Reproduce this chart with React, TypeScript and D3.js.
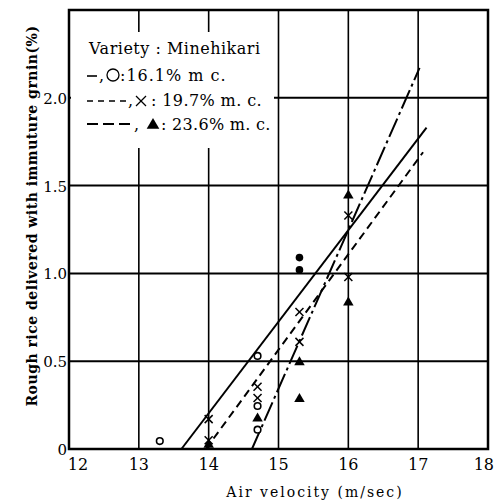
import React from "react";
import * as d3 from "d3";

const xTicks = [12, 13, 14, 15, 16, 17, 18];
const yTicks = [0, 0.5, 1.0, 1.5, 2.0];
const yTickLabels = ["0", "0.5", "1.0", "1.5", "2.0"];

// 16.1% m.c. — open circles
const circX = [13.3, 14.7, 14.7, 14.7];
const circY = [0.045, 0.53, 0.245, 0.11];
// filled dots at 15.3
const dotX = [15.3, 15.3];
const dotY = [1.09, 1.02];
// 19.7% m.c. — crosses
const crossX = [14.0, 14.0, 14.7, 14.7, 15.3, 15.3, 16.0, 16.0];
const crossY = [0.17, 0.05, 0.355, 0.29, 0.78, 0.61, 1.33, 0.98];
// 23.6% m.c. — triangles
const triX = [14.0, 14.7, 15.3, 15.3, 16.0, 16.0];
const triY = [0.03, 0.18, 0.5, 0.29, 1.45, 0.84];

// regression lines (start/end)
const solidLineX = [13.61, 17.12];
const solidLineY = [0, 1.83];
const shortDashX = [13.96, 17.07];
const shortDashY = [0, 1.69];
const longDashX = [14.62, 17.02];
const longDashY = [0, 2.17];

const FONT = "DejaVu Serif";
const T = (size: number, extra: any = {}) => ({ fontFamily: FONT, fontSize: size, ...extra });

export default function App() {
  const W = 496, H = 502;
  const x = d3.scaleLinear().domain([12, 18]).range([69, 488]);
  const y = d3.scaleLinear().domain([0, 2.5]).range([449, 10]);
  const line = d3.line<[number, number]>().x((d) => x(d[0])).y((d) => y(d[1]));
  const mk = (xs: number[], ys: number[]) => xs.map((v, i) => [v, ys[i]] as [number, number]);

  const cross = (cx: number, cy: number, s: number, key: string, sw = 1.5) => (
    <g key={key} stroke="#000" strokeWidth={sw}>
      <line x1={cx - s} y1={cy - s} x2={cx + s} y2={cy + s} />
      <line x1={cx - s} y1={cy + s} x2={cx + s} y2={cy - s} />
    </g>
  );
  const tri = (cx: number, cy: number, s: number, key: string) => (
    <path key={key} d={`M${cx},${cy - s}L${cx + s * 1.05},${cy + s * 0.8}L${cx - s * 1.05},${cy + s * 0.8}Z`} fill="#000" />
  );

  return (
    <svg width={W} height={H} style={{ position: "absolute", left: 0, top: 0, background: "#fff" }}>
      <rect x={0} y={0} width={W} height={H} fill="#fff" />
      {/* gridlines */}
      {xTicks.slice(1, -1).map((t) => (
        <line key={"gx" + t} x1={x(t)} x2={x(t)} y1={y(2.5)} y2={y(0)} stroke="#000" strokeWidth={1.6} />
      ))}
      {yTicks.slice(1).map((t) => (
        <line key={"gy" + t} x1={x(12)} x2={x(18)} y1={y(t)} y2={y(t)} stroke="#000" strokeWidth={2} />
      ))}
      {/* legend box (covers grid) */}
      <rect x={71} y={32} width={203} height={116} fill="#fff" />
      {/* frame */}
      <rect x={x(12)} y={y(2.5)} width={x(18) - x(12)} height={y(0) - y(2.5)} fill="none" stroke="#000" strokeWidth={2.5} />

      {/* lines */}
      <path d={line(mk(solidLineX, solidLineY)) || ""} stroke="#000" strokeWidth={2} fill="none" />
      <path d={line(mk(shortDashX, shortDashY)) || ""} stroke="#000" strokeWidth={2} fill="none" strokeDasharray="8,5" />
      <path d={line(mk(longDashX, longDashY)) || ""} stroke="#000" strokeWidth={2} fill="none" strokeDasharray="20,4,3,4" />

      {/* markers */}
      {circX.map((v, i) => (
        <circle key={"c" + i} cx={x(v)} cy={y(circY[i])} r={3.3} fill="#fff" stroke="#000" strokeWidth={1.6} />
      ))}
      {dotX.map((v, i) => (
        <circle key={"d" + i} cx={x(v)} cy={y(dotY[i])} r={3.8} fill="#000" />
      ))}
      {triX.map((v, i) => tri(x(v), y(triY[i]), 5, "t" + i))}
      {crossX.map((v, i) => cross(x(v), y(crossY[i]), 4, "x" + i))}

      {/* y tick labels */}
      {yTicks.map((t, i) => (
        <text key={"yl" + t} x={67} y={y(t) + 6} textAnchor="end" style={T(15)}>
          {yTickLabels[i]}
        </text>
      ))}
      {/* x tick labels */}
      {xTicks.map((t) => (
        <text key={"xl" + t} x={t === 12 ? x(t) + 9 : t === 18 ? x(t) + 6 : x(t)} y={470}
          textAnchor={t === 18 ? "end" : "middle"} style={T(16)}>
          {t}
        </text>
      ))}

      {/* axis titles */}
      <text x={315} y={497} textAnchor="middle" style={T(14, { letterSpacing: 2 })}>
        Air velocity (m/sec)
      </text>
      <text transform={`translate(37,216) rotate(-90)`} textAnchor="middle" style={T(14, { fontWeight: "bold", letterSpacing: 0.5 })}>
        Rough rice delivered with immuture grnin(%)
      </text>

      {/* legend */}
      <text x={89} y={54} style={T(16, { letterSpacing: 0.5 })}>Variety : Minehikari</text>
      <line x1={87} x2={97} y1={76} y2={76} stroke="#000" strokeWidth={1.6} />
      <text x={99} y={81} style={T(16)}>,</text>
      <circle cx={113} cy={75} r={6} fill="none" stroke="#000" strokeWidth={1.3} />
      <text x={120} y={81} style={T(16, { letterSpacing: 1 })}>:16.1%  m c.</text>

      <line x1={87} x2={127} y1={101} y2={101} stroke="#000" strokeWidth={1.6} strokeDasharray="6,5" />
      <text x={128} y={106} style={T(16)}>,</text>
      {cross(141, 101, 5, "lx", 1.3)}
      <text x={151} y={106} style={T(16, { letterSpacing: 0.4 })}>: 19.7%  m. c.</text>

      <line x1={87} x2={132} y1={124} y2={124} stroke="#000" strokeWidth={2} strokeDasharray="11,5" />
      <text x={134} y={130} style={T(16)}>,</text>
      {tri(153, 124, 6, "lt")}
      <text x={161} y={130} style={T(16, { letterSpacing: 0.3 })}>: 23.6%  m. c.</text>
    </svg>
  );
}
